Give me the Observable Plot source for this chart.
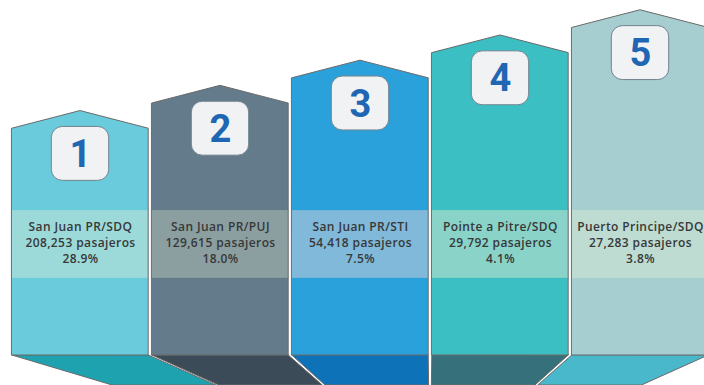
<!DOCTYPE html>
<html>
<head>
<meta charset="utf-8">
<script src="https://cdn.jsdelivr.net/npm/d3@7"></script>
<script src="https://cdn.jsdelivr.net/npm/@observablehq/plot@0.6"></script>
<style>
  html, body { margin: 0; padding: 0; background: #fff; overflow: hidden; }
  #chart svg { display: block; }
  #chart .labels text { letter-spacing: 0.4px; }
</style>
</head>
<body>
<div id="chart"></div>
<script>
// ---- data ----
const routes = ["San Juan PR/SDQ", "San Juan PR/PUJ", "San Juan PR/STI", "Pointe a Pitre/SDQ", "Puerto Principe/SDQ"];
const passengers = [208253, 129615, 54418, 29792, 27283];
const shares = [28.9, 18.0, 7.5, 4.1, 3.8];
const ranks = [1, 2, 3, 4, 5];

// ---- styles ----
const bodyColors = ["#6acbdc", "#637b8a", "#2ba1dc", "#3cbfc3", "#a6cdd0"];
const bandColors = ["#9cdad9", "#8b9fa1", "#80b9d9", "#89d3c8", "#bedcd2"];
const floorColors = ["#1fa2b0", "#3b4b58", "#0e72b9", "#36707a", "#49b8cb"];

// ---- layout (in scale units) ----
const HW = 0.487;          // half column width
const PEAK = 0.7;          // roof rise
const FLOOR = -30 / 25.2;  // floor depth
const VANISH = 3;          // floor vanishing x
const SLANT = 0.24;

const cols = routes.map((r, i) => ({
  i, route: r, pax: passengers[i], share: shares[i], rank: ranks[i],
  cx: i + 0.5, eave: 8 + ranks[i]
}));

const roof = cols.flatMap(c => [
  {col: c.i, x: c.cx - HW, top: c.eave, color: bodyColors[c.i]},
  {col: c.i, x: c.cx, top: c.eave + PEAK, color: bodyColors[c.i]},
  {col: c.i, x: c.cx + HW, top: c.eave, color: bodyColors[c.i]}
]);

const floor = cols.flatMap(c => {
  const l = c.cx - HW, r = c.cx + HW;
  return [
    {col: c.i, y: 0, x1: l, x2: r, color: floorColors[c.i]},
    {col: c.i, y: FLOOR, x1: l - SLANT * (l - VANISH), x2: r - SLANT * (r - VANISH), color: floorColors[c.i]}
  ];
});

const fmt = d3.format(",");

const chart = Plot.plot({
  width: 704,
  height: 385,
  margin: 0,
  x: {domain: [-10 / 140, 694 / 140], range: [0, 704], axis: null},
  y: {domain: [FLOOR, 355 / 25.2], range: [385, 0], axis: null},
  color: {type: "identity"},
  style: {fontFamily: "'Open Sans', sans-serif", background: "#fff"},
  marks: [
    Plot.areaX(floor, {y: "y", x1: "x1", x2: "x2", z: "col", fill: "color", stroke: "#6a6a6a", strokeWidth: 1}),
    Plot.areaY(roof, {x: "x", y1: 0, y2: "top", z: "col", fill: "color"}),
    Plot.rect(cols, {x1: d => d.cx - HW, x2: d => d.cx + HW, y1: 3.06, y2: 5.75, fill: d => bandColors[d.i]}),
    Plot.areaY(roof, {x: "x", y1: 0, y2: "top", z: "col", fill: "none", stroke: "#6a6a6a", strokeWidth: 1}),
    Plot.rect(cols, {x1: d => d.cx - 0.205, x2: d => d.cx + 0.205, y1: d => d.eave - 1 - 1.07, y2: d => d.eave - 1 + 1.07,
      rx: 11, fill: "#f1f2f4", stroke: "#71828e", strokeWidth: 1}),
    Plot.text(cols, {x: "cx", y: d => d.eave - 1, text: d => String(d.rank), fontSize: 38, fontWeight: 700,
      fill: "#1f66b3", fontFamily: "Roboto, sans-serif", dy: 1}),
    Plot.text(cols, {x: "cx", y: 4.5, text: d => `${d.route}\n${fmt(d.pax)} pasajeros\n${d.share.toFixed(1)}%`,
      fontSize: 12, fontWeight: 600, fill: "#383838", lineHeight: 1.33, className: "labels"})
  ]
});

document.getElementById("chart").appendChild(chart);
</script>
</body>
</html>
